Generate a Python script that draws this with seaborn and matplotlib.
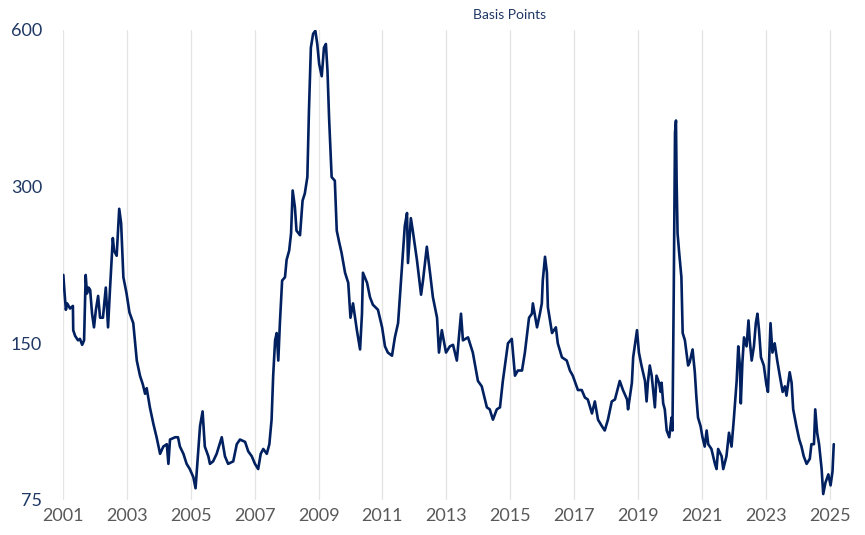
import pandas as pd
import matplotlib.pyplot as plt
import matplotlib.ticker as mticker
import seaborn as sns

# Spread readings (decimal year, basis points)
years = [
    2001.01, 2001.05, 2001.09, 2001.13, 2001.22, 2001.31, 2001.32, 2001.38, 2001.47, 2001.53,
    2001.60, 2001.66, 2001.71, 2001.75, 2001.80, 2001.85, 2001.91, 2001.97, 2002.03, 2002.10,
    2002.16, 2002.25, 2002.34, 2002.41, 2002.47, 2002.56, 2002.60, 2002.68, 2002.76, 2002.82,
    2002.89, 2002.99, 2003.08, 2003.20, 2003.31, 2003.41, 2003.50, 2003.57, 2003.62, 2003.72,
    2003.83, 2003.93, 2004.04, 2004.14, 2004.25, 2004.30, 2004.35, 2004.51, 2004.60, 2004.66,
    2004.77, 2004.87, 2004.97, 2005.08, 2005.15, 2005.20, 2005.29, 2005.37, 2005.44, 2005.55,
    2005.60, 2005.70, 2005.81, 2005.97, 2006.07, 2006.17, 2006.33, 2006.44, 2006.54, 2006.70,
    2006.80, 2006.91, 2007.01, 2007.11, 2007.19, 2007.27, 2007.38, 2007.46, 2007.53, 2007.58,
    2007.64, 2007.69, 2007.74, 2007.79, 2007.86, 2007.95, 2008.00, 2008.08, 2008.14, 2008.19,
    2008.26, 2008.31, 2008.42, 2008.50, 2008.57, 2008.65, 2008.70, 2008.76, 2008.83, 2008.90,
    2008.96, 2009.02, 2009.10, 2009.17, 2009.23, 2009.28, 2009.33, 2009.41, 2009.51, 2009.57,
    2009.65, 2009.72, 2009.83, 2009.93, 2010.00, 2010.08, 2010.20, 2010.30, 2010.36, 2010.39,
    2010.52, 2010.61, 2010.70, 2010.86, 2010.99, 2011.08, 2011.17, 2011.30, 2011.39, 2011.49,
    2011.61, 2011.70, 2011.77, 2011.80, 2011.89, 2011.95, 2012.08, 2012.21, 2012.27, 2012.39,
    2012.49, 2012.58, 2012.71, 2012.77, 2012.86, 2012.99, 2013.11, 2013.21, 2013.33, 2013.46,
    2013.52, 2013.68, 2013.83, 2013.99, 2014.11, 2014.27, 2014.36, 2014.46, 2014.58, 2014.68,
    2014.77, 2014.93, 2015.05, 2015.15, 2015.24, 2015.37, 2015.46, 2015.59, 2015.68, 2015.71,
    2015.84, 2015.93, 2015.99, 2016.02, 2016.09, 2016.15, 2016.18, 2016.31, 2016.43, 2016.49,
    2016.62, 2016.77, 2016.87, 2016.96, 2017.12, 2017.24, 2017.34, 2017.43, 2017.56, 2017.65,
    2017.75, 2017.87, 2017.96, 2018.06, 2018.18, 2018.28, 2018.43, 2018.53, 2018.66, 2018.69,
    2018.81, 2018.85, 2018.97, 2019.03, 2019.11, 2019.22, 2019.27, 2019.31, 2019.37, 2019.43,
    2019.53, 2019.58, 2019.66, 2019.71, 2019.74, 2019.79, 2019.84, 2019.90, 2019.98, 2020.05,
    2020.08, 2020.12, 2020.16, 2020.19, 2020.21, 2020.24, 2020.29, 2020.36, 2020.40, 2020.47,
    2020.52, 2020.57, 2020.62, 2020.71, 2020.78, 2020.83, 2020.88, 2020.96, 2021.02, 2021.09,
    2021.15, 2021.20, 2021.30, 2021.41, 2021.46, 2021.51, 2021.62, 2021.67, 2021.77, 2021.85,
    2021.93, 2022.00, 2022.09, 2022.14, 2022.19, 2022.22, 2022.27, 2022.32, 2022.40, 2022.46,
    2022.50, 2022.56, 2022.63, 2022.69, 2022.74, 2022.79, 2022.85, 2022.94, 2023.02, 2023.07,
    2023.15, 2023.21, 2023.28, 2023.36, 2023.44, 2023.53, 2023.60, 2023.65, 2023.75, 2023.81,
    2023.86, 2023.91, 2023.96, 2024.05, 2024.12, 2024.19, 2024.28, 2024.38, 2024.43, 2024.51,
    2024.55, 2024.61, 2024.67, 2024.75, 2024.80, 2024.87, 2024.96, 2025.03, 2025.09, 2025.13,
]
spread_bp = [
    203, 187, 174, 179, 175, 177, 159, 155, 152, 153,
    149, 152, 203, 187, 192, 190, 171, 161, 174, 185,
    168, 168, 192, 161, 190, 239, 226, 221, 272, 255,
    201, 187, 172, 164, 139, 130, 125, 120, 123, 113,
    105, 99, 92, 95, 96, 88, 98, 99, 99, 95,
    92, 88, 86, 83, 79, 87, 104, 111, 95, 91,
    88, 89, 92, 99, 91, 88, 89, 96, 98, 97,
    93, 91, 88, 86, 92, 94, 92, 96, 107, 130,
    152, 157, 139, 164, 198, 201, 217, 226, 244, 295,
    274, 247, 242, 282, 291, 313, 420, 555, 590, 598,
    564, 516, 489, 555, 564, 501, 407, 313, 308, 247,
    234, 224, 205, 196, 168, 179, 159, 146, 171, 205,
    196, 184, 178, 174, 161, 148, 144, 142, 154, 164,
    210, 252, 267, 214, 261, 247, 217, 186, 198, 230,
    205, 184, 168, 144, 159, 144, 148, 149, 139, 171,
    152, 154, 144, 127, 124, 113, 112, 107, 112, 113,
    127, 150, 153, 130, 133, 133, 144, 168, 171, 179,
    161, 171, 179, 198, 220, 205, 176, 157, 161, 150,
    141, 139, 133, 130, 122, 122, 118, 117, 110, 116,
    107, 104, 102, 107, 116, 117, 127, 122, 117, 112,
    126, 141, 159, 144, 136, 127, 116, 126, 136, 130,
    113, 130, 126, 121, 126, 115, 112, 102, 99, 108,
    102, 187, 381, 402, 308, 244, 224, 201, 157, 152,
    144, 136, 138, 146, 132, 118, 108, 104, 99, 95,
    102, 96, 94, 88, 86, 94, 91, 86, 91, 101,
    95, 107, 127, 148, 136, 115, 138, 154, 148, 166,
    152, 139, 148, 164, 171, 159, 141, 136, 125, 121,
    164, 144, 150, 139, 130, 121, 124, 119, 132, 126,
    112, 108, 104, 98, 95, 91, 88, 90, 96, 96,
    112, 101, 96, 86, 77, 81, 84, 80, 85, 96,
]

tick_years = list(range(2001, 2026, 2))
y_ticks = [75, 150, 300, 600]

navy = "#002060"
label_navy = "#1F3864"
grey_text = "#595959"

df = pd.DataFrame({"Year": years, "Spread": spread_bp})

sns.set_style("white")
plt.rcParams["font.family"] = ["Lato", "DejaVu Sans"]

fig = plt.figure(figsize=(8.65, 5.35), dpi=100)
ax = fig.add_axes([63 / 865, 35 / 535, 773 / 865, 470 / 535])

sns.lineplot(data=df, x="Year", y="Spread", ax=ax, color=navy,
             linewidth=1.9, estimator=None, sort=False)

ax.set_yscale("log", base=2)
ax.set_ylim(75, 600)
ax.set_yticks(y_ticks)
ax.yaxis.set_major_formatter(mticker.FuncFormatter(lambda v, p: f"{v:.0f}"))
ax.yaxis.set_minor_locator(mticker.NullLocator())

ax.set_xlim(2001, 2025.2)
ax.set_xticks(tick_years)
ax.set_xticklabels([str(y) for y in tick_years])

ax.grid(axis="x", color="#E4E4E4", linewidth=0.9)
ax.grid(axis="y", visible=False)
for side in ax.spines.values():
    side.set_visible(False)

ax.tick_params(axis="y", length=0, pad=15, labelsize=13, labelcolor=label_navy)
ax.tick_params(axis="x", length=0, pad=6, labelsize=13, labelcolor=grey_text)
ax.set_xlabel("")
ax.set_ylabel("")

fig.text(510 / 865, 1 - 15 / 535, "Basis Points", ha="center", va="center",
         fontsize=10, color=label_navy)

fig.savefig("out.png", dpi=100)
